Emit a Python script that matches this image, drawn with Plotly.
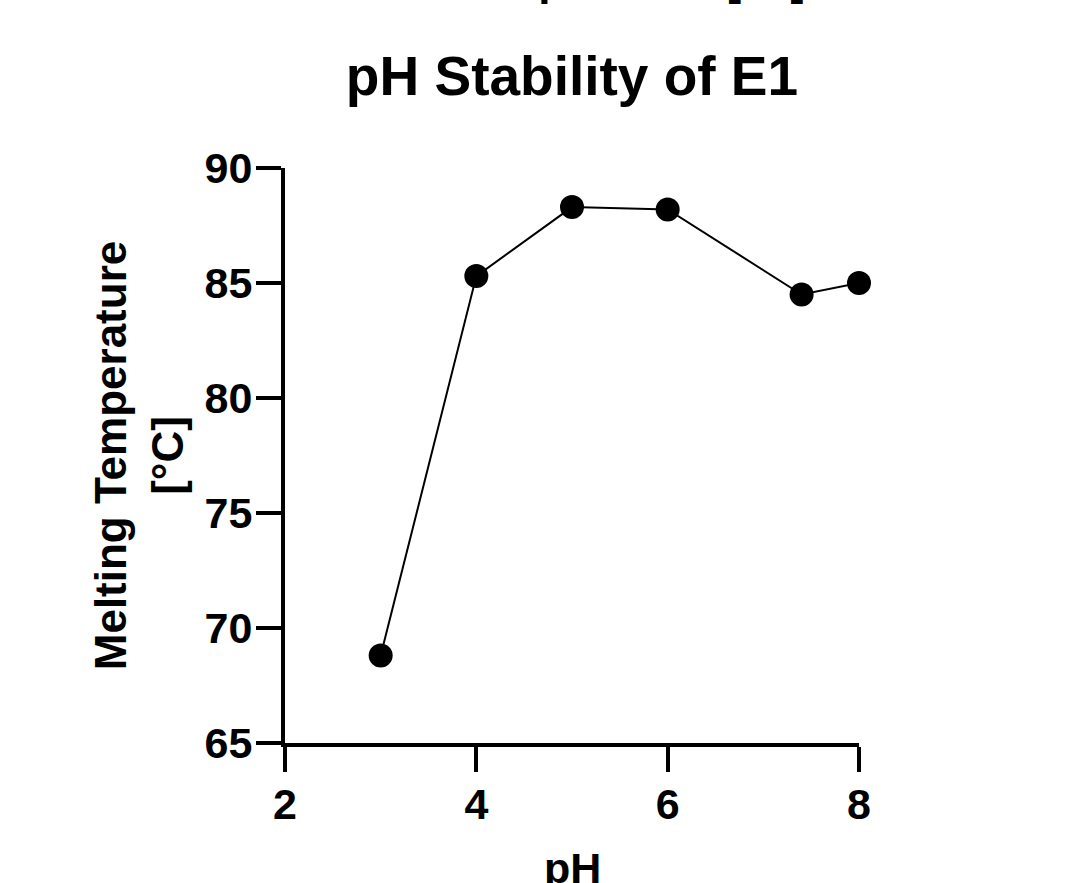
import plotly.graph_objects as go

ph = [3, 4, 5, 6, 7.4, 8]
tm = [68.8, 85.3, 88.3, 88.2, 84.5, 85.0]
x_ticks = [2, 4, 6, 8]
y_ticks = [65, 70, 75, 80, 85, 90]

W, H = 1068, 883
L, R, T, B = 285, 209, 168, 140

FONT = "Liberation Sans, Arial, sans-serif"

fig = go.Figure()
fig.add_trace(go.Scatter(
    x=ph, y=tm, mode="lines+markers",
    line=dict(color="black", width=2),
    marker=dict(color="black", size=24),
    cliponaxis=False,
    showlegend=False,
))

axis_common = dict(
    showgrid=False, zeroline=False, showline=True, linecolor="black", linewidth=4,
    ticks="outside", ticklen=25, tickwidth=4, tickcolor="black",
    tickfont=dict(family=FONT, size=43, color="black", weight="bold"),
    ticklabelstandoff=-5,
)

fig.update_xaxes(range=[2, 8], tickvals=x_ticks, **axis_common)
fig.update_yaxes(range=[65, 90], tickvals=y_ticks, **axis_common,
                 title=dict(text="Melting Temperature<br>[°C]", font=dict(family=FONT, size=44, color="black", weight="bold"), standoff=8))

fig.update_layout(
    width=W, height=H,
    margin=dict(l=L, r=R, t=T, b=B, autoexpand=False),
    paper_bgcolor="white", plot_bgcolor="white",
    title=dict(text="pH Stability of E1", x=(L + (W - L - R) / 2) / W, xanchor="center",
               y=1 - 76 / H, yanchor="middle", yref="container",
               font=dict(family=FONT, size=55, color="black", weight="bold")),
)

# x-axis title (partly below the bottom edge, as in the reference)
fig.add_annotation(text="pH", xref="paper", yref="paper",
                   x=0.5, y=-(853 - 745 - 9) / (H - T - B),
                   xanchor="center", yanchor="top", showarrow=False,
                   font=dict(family=FONT, size=43, color="black", weight="bold"))

# cropped text at the top edge
fig.add_annotation(text="Temperature [°C]", xref="paper", yref="paper",
                   x=(628 - L) / (W - L - R), y=1 + (T - 6) / (H - T - B),
                   xanchor="center", yanchor="bottom", showarrow=False,
                   font=dict(family=FONT, size=44, color="black", weight="bold"))

fig.write_html("out.html")
